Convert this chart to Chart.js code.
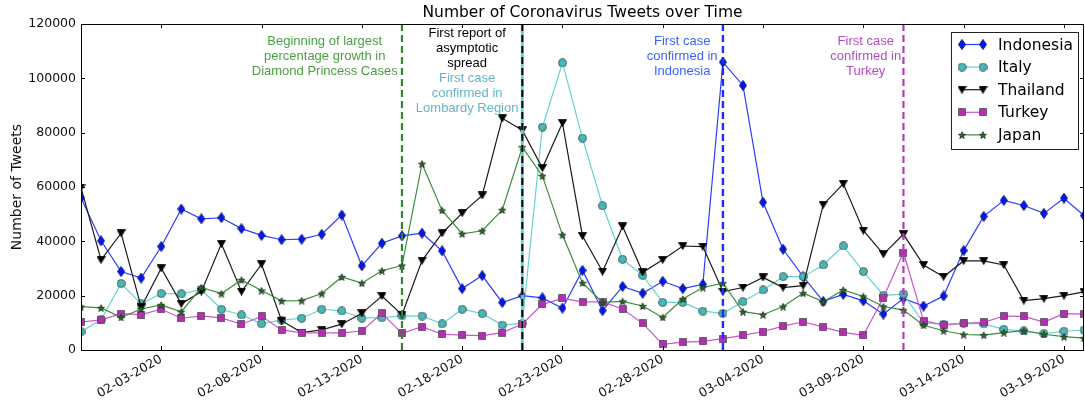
<!DOCTYPE html>
<html>
<head>
<meta charset="utf-8">
<title>Number of Coronavirus Tweets over Time</title>
<script src="https://cdn.jsdelivr.net/npm/chart.js@4.4.0/dist/chart.umd.min.js"></script>
<style>
    html, body { margin: 0; padding: 0; background: #fff; }
    #wrap { width: 1085px; height: 401px; }
</style>
</head>
<body>
<div id="wrap"><canvas id="tweets-chart" width="1085" height="401"></canvas></div>
<script>
// tweets-chart - daily coronavirus tweet counts per country

// One entry per day, 01-30-2020 .. 03-20-2020
const dates = [
    '01-30-2020', '01-31-2020', '02-01-2020', '02-02-2020', '02-03-2020', '02-04-2020',
    '02-05-2020', '02-06-2020', '02-07-2020', '02-08-2020', '02-09-2020', '02-10-2020',
    '02-11-2020', '02-12-2020', '02-13-2020', '02-14-2020', '02-15-2020', '02-16-2020',
    '02-17-2020', '02-18-2020', '02-19-2020', '02-20-2020', '02-21-2020', '02-22-2020',
    '02-23-2020', '02-24-2020', '02-25-2020', '02-26-2020', '02-27-2020', '02-28-2020',
    '02-29-2020', '03-01-2020', '03-02-2020', '03-03-2020', '03-04-2020', '03-05-2020',
    '03-06-2020', '03-07-2020', '03-08-2020', '03-09-2020', '03-10-2020', '03-11-2020',
    '03-12-2020', '03-13-2020', '03-14-2020', '03-15-2020', '03-16-2020', '03-17-2020',
    '03-18-2020', '03-19-2020', '03-20-2020'
];

const tickDates = ['02-03-2020', '02-08-2020', '02-13-2020', '02-18-2020', '02-23-2020',
    '02-28-2020', '03-04-2020', '03-09-2020', '03-14-2020', '03-19-2020'];

const indonesia = [56000, 40200, 28900, 26500, 38100, 51900, 48300, 48700, 44700, 42200,
    40600, 40800, 42600, 49700, 31000, 39300, 42000, 43000, 36500, 22600,
    27400, 17500, 20000, 19200, 15400, 29300, 14500, 23400, 20900, 25300,
    22600, 24200, 106000, 97400, 54400, 37100, 27000, 17900, 20500, 18100,
    13200, 19000, 16200, 19900, 36600, 49200, 55100, 53200, 50300, 55900, 49500];

const italy = [6700, 11100, 24500, 17000, 20800, 20700, 22200, 15000, 12900, 9700,
    11000, 11700, 15000, 14400, 11700, 11900, 12600, 12500, 9600, 15000,
    13400, 9200, 9800, 82100, 105700, 78000, 53100, 33400, 27500, 17500,
    17500, 14300, 13500, 17800, 22100, 27000, 27000, 31300, 38300, 28900,
    20100, 20600, 10000, 9500, 9800, 9600, 7600, 7000, 6000, 6900, 7300];

const thailand = [59800, 33200, 43000, 15800, 30100, 17000, 21500, 39100, 21500, 31600,
    10800, 6400, 7400, 9500, 13500, 19900, 13000, 32900, 43000, 50400,
    56900, 85300, 80900, 67000, 83600, 42000, 28900, 45500, 28600, 33200,
    38300, 38100, 21500, 23000, 26700, 23000, 23700, 53500, 61200, 44000,
    35300, 42600, 31300, 27000, 32800, 32800, 31300, 18200, 18900, 20000, 21400];

const turkey = [10300, 11100, 13400, 13000, 15000, 11700, 12600, 11800, 9500, 12400,
    7400, 6300, 6300, 6300, 7000, 13500, 6100, 8600, 5800, 5500,
    5300, 6400, 9600, 16800, 19000, 17700, 17700, 15100, 9800, 2100,
    2900, 3200, 4200, 5400, 6800, 8800, 10400, 8400, 6500, 5400,
    19200, 35900, 10800, 9200, 9800, 10200, 12500, 12400, 10300, 13400, 13200];

const japan = [16000, 15500, 12000, 15100, 16600, 14100, 23000, 20800, 25800, 21900,
    18100, 18200, 20800, 26900, 24600, 29200, 31100, 68600, 51400, 42800,
    43900, 51600, 74700, 64100, 42400, 24700, 17500, 17900, 16200, 12000,
    18800, 23000, 24600, 14100, 13000, 16000, 20900, 17800, 22100, 19700,
    16000, 14700, 9100, 7100, 5700, 5500, 6400, 7100, 5800, 4900, 4400];

const countries = ['Indonesia', 'Italy', 'Thailand', 'Turkey', 'Japan'];

// Event markers (vertical dashed lines) and their notes
const eventDates = ['02-15-2020', '02-21-2020', '03-02-2020', '03-11-2020'];
const eventNotes = [
    ['Beginning of largest', 'percentage growth in', 'Diamond Princess Cases'],
    ['First report of', 'asymptotic', 'spread'],
    ['First case', 'confirmed in', 'Lombardy Region'],
    ['First case', 'confirmed in', 'Indonesia'],
    ['First case', 'confirmed in', 'Turkey']
];

// Build a small canvas to use as a point marker
function makeMarker(shape, fill, edge, w, h) {
    const c = document.createElement('canvas');
    c.width = w;
    c.height = h;
    const ctx = c.getContext('2d');
    const cx = w / 2, cy = h / 2;
    ctx.fillStyle = fill;
    ctx.strokeStyle = edge;
    ctx.lineWidth = 0.8;
    ctx.beginPath();
    if (shape === 'diamond') {
        ctx.moveTo(cx, 0.4);
        ctx.lineTo(w - 0.4, cy);
        ctx.lineTo(cx, h - 0.4);
        ctx.lineTo(0.4, cy);
    } else if (shape === 'circle') {
        ctx.arc(cx, cy, w / 2 - 0.5, 0, Math.PI * 2);
    } else if (shape === 'triangle') {
        ctx.moveTo(0.4, 0.6);
        ctx.lineTo(w - 0.4, 0.6);
        ctx.lineTo(cx, h - 0.4);
    } else if (shape === 'square') {
        ctx.rect(0.5, 0.5, w - 1, h - 1);
    } else if (shape === 'star') {
        const R = w / 2 - 0.3;
        for (let k = 0; k < 10; k++) {
            const r = k % 2 ? R * 0.42 : R;
            const a = -Math.PI / 2 + k * Math.PI / 5;
            const px = cx + r * Math.cos(a), py = cy + 0.5 + r * Math.sin(a);
            if (k === 0) ctx.moveTo(px, py); else ctx.lineTo(px, py);
        }
    }
    ctx.closePath();
    ctx.fill();
    ctx.stroke();
    return c;
}

const markers = [
    makeMarker('diamond', '#0018f0', '#101050', 8, 11),
    makeMarker('circle', '#45b8b8', '#4a4a4a', 9, 9),
    makeMarker('triangle', '#000000', '#000000', 9, 8),
    makeMarker('square', '#b52cb5', '#505050', 8, 8),
    makeMarker('star', '#2b6a2b', '#143014', 8, 8)
];
const lineColors = ['#2a3cff', '#66d2d2', '#1a1a1a', '#cc55cc', '#3c8c3c'];

function toPoints(values) {
    return values.map((v, i) => ({ x: i, y: v }));
}

const seriesValues = [indonesia, italy, thailand, turkey, japan];

// Vertical lines, notes, frame, inward ticks and legend
const decorPlugin = {
    id: 'decor',
    afterDatasetsDraw(chart) {
        const { ctx, chartArea: a, scales: { x, y } } = chart;
        const at = d => x.getPixelForValue(dates.indexOf(d));

        ctx.save();
        ctx.beginPath();
        ctx.rect(a.left, a.top, a.right - a.left, a.bottom - a.top);
        ctx.clip();

        const vline = (px, color, width, dash) => {
            ctx.strokeStyle = color;
            ctx.lineWidth = width;
            ctx.setLineDash(dash);
            ctx.beginPath();
            ctx.moveTo(px, a.top);
            ctx.lineTo(px, a.bottom);
            ctx.stroke();
        };
        vline(at(eventDates[0]), '#2a8a2a', 2.2, [7, 4]);
        vline(at(eventDates[1]), '#5fd3d3', 3, []);
        vline(at(eventDates[1]), '#000000', 2, [7, 4]);
        vline(at(eventDates[2]), '#1a2eff', 2.4, [7, 4]);
        vline(at(eventDates[3]), '#b23cb8', 2.2, [7, 4]);
        ctx.setLineDash([]);
        ctx.restore();

        // notes
        ctx.save();
        ctx.font = '13px "Liberation Sans", Arial, sans-serif';
        ctx.textAlign = 'center';
        ctx.textBaseline = 'middle';
        const noteSpots = [
            { cx: x.getPixelForValue(12.15), top: a.top + 17.5, color: '#4a9f42' },
            { cx: x.getPixelForValue(19.25), top: a.top + 9.5, color: '#000000' },
            { cx: x.getPixelForValue(19.25), top: a.top + 54, color: '#64b4cc' },
            { cx: x.getPixelForValue(29.97), top: a.top + 17.5, color: '#3a62ff' },
            { cx: x.getPixelForValue(39.12), top: a.top + 17.5, color: '#b24cc4' }
        ];
        eventNotes.forEach((lines, n) => {
            const s = noteSpots[n];
            ctx.fillStyle = s.color;
            lines.forEach((t, k) => ctx.fillText(t, s.cx, s.top + k * 15));
        });
        ctx.restore();

        // frame and inward ticks
        ctx.save();
        ctx.strokeStyle = '#000';
        ctx.lineWidth = 1;
        ctx.strokeRect(Math.round(a.left) + 0.5, Math.round(a.top) + 0.5,
            Math.round(a.right - a.left) - 1, Math.round(a.bottom - a.top));
        ctx.beginPath();
        x.ticks.forEach(t => {
            const px = Math.round(x.getPixelForValue(t.value)) + 0.5;
            ctx.moveTo(px, a.bottom); ctx.lineTo(px, a.bottom - 4);
            ctx.moveTo(px, a.top); ctx.lineTo(px, a.top + 4);
        });
        y.ticks.forEach(t => {
            const py = Math.round(y.getPixelForValue(t.value)) + 0.5;
            ctx.moveTo(a.left, py); ctx.lineTo(a.left + 4, py);
            ctx.moveTo(a.right, py); ctx.lineTo(a.right - 4, py);
        });
        ctx.stroke();
        ctx.restore();

        // legend box
        ctx.save();
        const lx = 951, ly = 32, lw = 127, lh = 117;
        ctx.fillStyle = '#fff';
        ctx.fillRect(lx, ly, lw, lh);
        ctx.strokeStyle = '#222';
        ctx.lineWidth = 1;
        ctx.strokeRect(lx + 0.5, ly + 0.5, lw, lh);
        ctx.font = '15.5px "DejaVu Sans"';
        ctx.textAlign = 'left';
        ctx.textBaseline = 'middle';
        countries.forEach((name, n) => {
            const cy = ly + 12.5 + n * 22.6;
            ctx.strokeStyle = lineColors[n];
            ctx.lineWidth = 1.2;
            ctx.beginPath();
            ctx.moveTo(962, cy);
            ctx.lineTo(983, cy);
            ctx.stroke();
            const m = markers[n];
            ctx.drawImage(m, 962 - m.width / 2, cy - m.height / 2);
            ctx.drawImage(m, 983 - m.width / 2, cy - m.height / 2);
            ctx.fillStyle = '#000';
            ctx.fillText(name, 998, cy + 1);
        });
        ctx.restore();
    }
};

Chart.defaults.font.family = '"DejaVu Sans", sans-serif';
Chart.defaults.color = '#000';

const ctx = document.getElementById('tweets-chart').getContext('2d');
window.tweetsChart = new Chart(ctx, {
    type: 'line',
    data: {
        datasets: countries.map((name, n) => ({
            label: name,
            data: toPoints(seriesValues[n]),
            borderColor: lineColors[n],
            backgroundColor: lineColors[n],
            borderWidth: 1.2,
            pointStyle: markers[n],
            pointRadius: 5,
            tension: 0,
            fill: false,
            order: countries.length - n
        }))
    },
    options: {
        responsive: false,
        animation: false,
        devicePixelRatio: 1,
        events: [],
        layout: { autoPadding: false, padding: { left: 0, right: 1, top: 0, bottom: 0 } },
        plugins: {
            legend: { display: false },
            tooltip: { enabled: false },
            title: {
                display: true,
                fullSize: false,
                text: 'Number of Coronavirus Tweets over Time',
                color: '#000',
                font: { family: '"DejaVu Sans"', size: 15.5, weight: 'normal' },
                padding: { top: 4, bottom: 1.5 }
            }
        },
        scales: {
            x: {
                type: 'linear',
                min: 0,
                max: dates.length - 1,
                afterBuildTicks: axis => {
                    axis.ticks = tickDates.map(d => ({ value: dates.indexOf(d) }));
                },
                afterFit: axis => {
                    axis.height = 51;
                    axis.paddingLeft = 0;
                    axis.paddingRight = 0;
                },
                grid: { display: false, drawTicks: false },
                border: { display: false },
                ticks: {
                    autoSkip: false,
                    minRotation: 30,
                    maxRotation: 30,
                    padding: 2,
                    color: '#111',
                    font: { size: 12.5 },
                    callback: v => dates[v]
                }
            },
            y: {
                min: 0,
                max: 120000,
                afterFit: axis => {
                    axis.width = 81;
                    axis.paddingTop = 0;
                    axis.paddingBottom = 0;
                },
                grid: { display: false, drawTicks: false },
                border: { display: false },
                ticks: {
                    stepSize: 20000,
                    padding: 5,
                    color: '#111',
                    font: { size: 12.5 },
                    callback: v => String(v)
                },
                title: {
                    display: true,
                    text: 'Number of Tweets',
                    color: '#111',
                    font: { size: 14 },
                    padding: { top: 9, bottom: 0 }
                }
            }
        }
    },
    plugins: [decorPlugin]
});
</script>
</body>
</html>
